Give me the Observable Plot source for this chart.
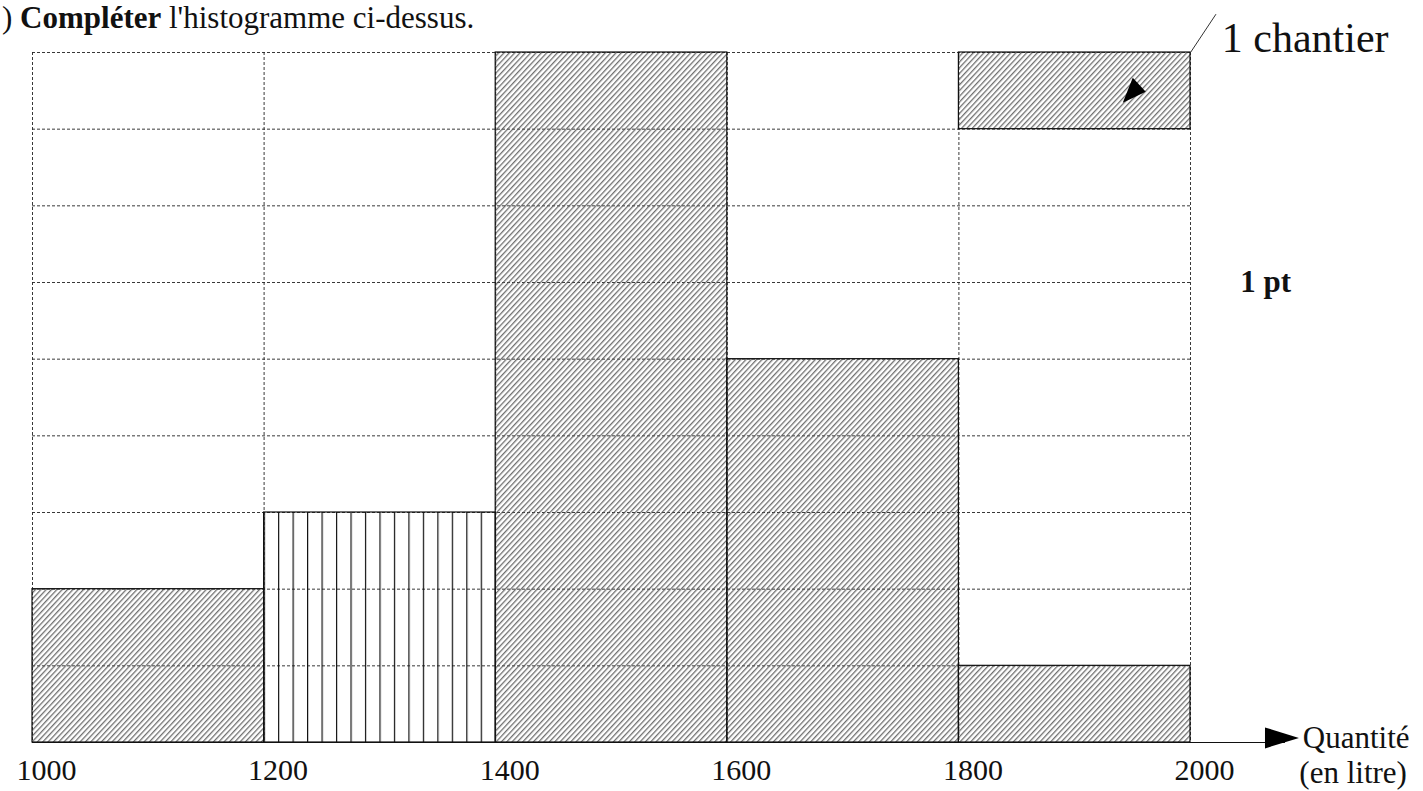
<!DOCTYPE html>
<html>
<head>
<meta charset="utf-8">
<script src="https://cdn.jsdelivr.net/npm/d3@7"></script>
<script src="https://cdn.jsdelivr.net/npm/@observablehq/plot@0.6"></script>
<style>
  html, body { margin: 0; padding: 0; background: #fff; overflow: hidden; }
  #title { font-family: "Liberation Serif", "DejaVu Serif", serif; font-size: 31px; height: 32px; line-height: 35px; padding-left: 2px; white-space: nowrap; color: #111; overflow: visible; }
  #chart svg { display: block; }
</style>
</head>
<body>
<div id="title">) <b>Compléter</b> l'histogramme ci-dessus.</div>
<div id="chart"></div>
<script>
// Class boundaries (litres) and counts (chantiers)
const classLow  = [1000, 1200, 1400, 1600, 1800];
const classHigh = [1200, 1400, 1600, 1800, 2000];
const counts    = [2, 3, 9, 5, 1];
const xTicks    = [1000, 1200, 1400, 1600, 1800, 2000];
const yRows     = [0, 1, 2, 3, 4, 5, 6, 7, 8, 9];
// class that the student must complete (vertical lines)
const completedClass = 1200;
// legend unit: one cell = 1 chantier
const legendCell = [{x1: 1800, x2: 2000, y1: 8, y2: 9}];
const legendLabel = "1 chantier";
const pointsLabel = "1 pt";
const axisLabel1 = "Quantité";
const axisLabel2 = "(en litre)";

const bars = classLow.map((lo, i) => ({lo, hi: classHigh[i], n: counts[i]}));

const serif = "Liberation Serif, DejaVu Serif, serif";

// elongated right-pointing triangle symbol (axis arrow)
const arrowHead = { draw(ctx) { const w = 17, h = 10.5; ctx.moveTo(w, 0); ctx.lineTo(-w, -h); ctx.lineTo(-w, h); ctx.closePath(); } };
// small black triangle inside the legend cell
const smallHead = { draw(ctx) { ctx.moveTo(-1, -13); ctx.lineTo(12, 1); ctx.lineTo(-11, 12); ctx.closePath(); } };

const plot = Plot.plot({
  width: 1423,
  height: 759,
  marginLeft: 32,
  marginRight: 233,
  marginTop: 20,
  marginBottom: 49,
  x: {domain: [1000, 2000]},
  y: {domain: [0, 9], axis: null},
  style: {fontFamily: serif, background: "transparent", overflow: "visible"},
  marks: [
    Plot.gridY(yRows, {stroke: "#222", strokeOpacity: 1, strokeDasharray: "3,2", strokeWidth: 0.9}),
    Plot.gridX(xTicks, {stroke: "#222", strokeOpacity: 1, strokeDasharray: "3,2", strokeWidth: 0.9}),
    Plot.rect(bars.filter(d => d.lo !== completedClass), {x1: "lo", x2: "hi", y1: 0, y2: "n", fill: "url(#hatch)", stroke: "#111", strokeWidth: 1.2}),
    Plot.rect(bars.filter(d => d.lo === completedClass), {x1: "lo", x2: "hi", y1: 0, y2: "n", fill: "url(#vlines)", stroke: "#111", strokeWidth: 1.2}),
    Plot.rect(legendCell, {x1: "x1", x2: "x2", y1: "y1", y2: "y2", fill: "url(#hatch)", stroke: "#111", strokeWidth: 1.2}),
    // leader line to the legend label
    Plot.link(legendCell, {x1: "x2", y1: "y2", x2: d => d.x2 + 22, y2: d => d.y2 + 0.5, stroke: "#333", strokeWidth: 1}),
    Plot.text(legendCell, {x: d => d.x2 + 27, y: d => d.y2 + 0.18, text: () => legendLabel, textAnchor: "start", fontSize: 42, fill: "#111"}),
    Plot.dot(legendCell, {x: d => d.x2 - 49, y: d => d.y1 + 0.5, symbol: smallHead, r: 6, fill: "#000", stroke: "none"}),
    Plot.text([pointsLabel], {x: 2043, y: 6, text: d => d, textAnchor: "start", fontSize: 31, fontWeight: "bold", fill: "#111"}),
    // x axis line with arrow
    Plot.ruleY([0], {x1: 1000, x2: 2082, stroke: "#111", strokeWidth: 1.2}),
    Plot.dot([0], {x: 2079, y: 0.06, symbol: arrowHead, r: 6, fill: "#000", stroke: "none"}),
    Plot.text([axisLabel1], {x: 2097, y: 0.06, text: d => d, textAnchor: "start", fontSize: 31, fill: "#111"}),
    Plot.text([axisLabel2], {x: 2094, y: -0.4, text: d => d, textAnchor: "start", fontSize: 31, fill: "#111"}),
    Plot.axisX(xTicks, {tickSize: 0, tickPadding: 16, dx: 14, fontSize: 30, tickFormat: d => String(d), fill: "#111"})
  ]
});

const svg = d3.select(plot);
const defs = svg.insert("defs", ":first-child");
const hs = 3.9;
const hatch = defs.append("pattern").attr("id", "hatch").attr("patternUnits", "userSpaceOnUse")
  .attr("width", hs).attr("height", hs).attr("patternTransform", "rotate(43)");
hatch.append("line").attr("x1", 0.7).attr("y1", 0).attr("x2", 0.7).attr("y2", hs).attr("stroke", "#555").attr("stroke-width", 1.1);
const xs = plot.scale("x");
const x0 = xs.apply(completedClass);
const step = (xs.apply(completedClass + 200) - x0) / 16;
const vl = defs.append("pattern").attr("id", "vlines").attr("patternUnits", "userSpaceOnUse")
  .attr("x", x0).attr("y", 0).attr("width", step).attr("height", 10);
vl.append("line").attr("x1", 0.6).attr("y1", 0).attr("x2", 0.6).attr("y2", 10).attr("stroke", "#111").attr("stroke-width", 1.2);

document.getElementById("chart").appendChild(plot);
</script>
</body>
</html>
